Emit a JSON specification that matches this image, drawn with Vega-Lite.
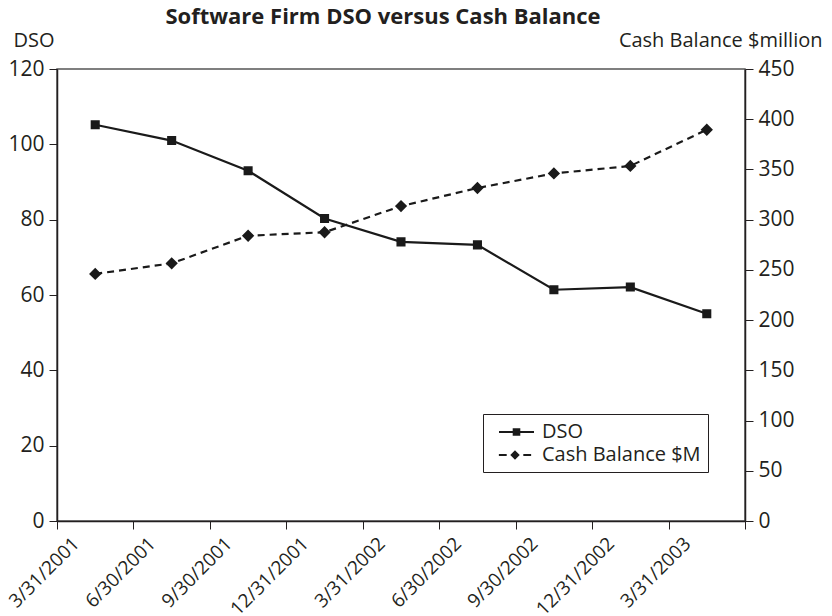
{
  "$schema": "https://vega.github.io/schema/vega-lite/v6.json",
  "width": 688,
  "height": 452,
  "autosize": {"type": "none"},
  "padding": {"left": 57, "top": 69, "right": 87, "bottom": 95},
  "background": "white",
  "config": {
    "font": "Open Sans",
    "view": {"stroke": "#555", "strokeWidth": 1.5},
    "axis": {"grid": false, "labelColor": "#231f20", "titleColor": "#231f20", "domainColor": "#231f20", "tickColor": "#231f20", "labelFont": "Open Sans", "titleFont": "Open Sans"},
    "legend": {
      "orient": "none",
      "direction": "vertical",
      "padding": 7,
      "symbolSize": 400,
      "symbolOffset": 15.5,
      "labelOffset": 14.5,
      "labelFontSize": 20,
      "labelFont": "Open Sans",
      "labelColor": "#231f20",
      "symbolStrokeWidth": 2,
      "symbolOpacity": 1
    }
  },
  "title": {
    "text": "Software Firm DSO versus Cash Balance",
    "font": "Open Sans",
    "fontSize": 22,
    "fontWeight": "bold",
    "color": "#231f20",
    "anchor": "middle",
    "frame": "group",
    "dx": -18,
    "offset": 1
  },
  "data": {
    "values": [
      {"quarter": "3/31/2001", "DSO": 105.2, "Cash": 246},
      {"quarter": "6/30/2001", "DSO": 101, "Cash": 256.5},
      {"quarter": "9/30/2001", "DSO": 93, "Cash": 284},
      {"quarter": "12/31/2001", "DSO": 80.3, "Cash": 287.5},
      {"quarter": "3/31/2002", "DSO": 74.1, "Cash": 313.5},
      {"quarter": "6/30/2002", "DSO": 73.3, "Cash": 331.5},
      {"quarter": "9/30/2002", "DSO": 61.4, "Cash": 346},
      {"quarter": "12/31/2002", "DSO": 62.1, "Cash": 353.5},
      {"quarter": "3/31/2003", "DSO": 55, "Cash": 389.5}
    ]
  },
  "encoding": {
    "x": {
      "field": "quarter",
      "type": "ordinal",
      "sort": null,
      "bandPosition": 0.5,
      "scale": {"type": "band", "paddingInner": 0, "paddingOuter": 0},
      "axis": {
        "title": null,
        "tickBand": "extent",
        "labelOffset": -26,
        "labelAngle": -45,
        "labelAlign": "right",
        "labelBaseline": "top",
        "labelFontSize": 19,
        "labelPadding": 5,
        "tickSize": 8,
        "domainWidth": 1.5
      }
    }
  },
  "layer": [
    {
      "encoding": {
        "y": {
          "field": "DSO",
          "type": "quantitative",
          "scale": {"domain": [0, 120], "nice": false, "zero": true},
          "axis": {
            "orient": "left",
            "values": [0, 20, 40, 60, 80, 100, 120],
            "labelFontSize": 21,
            "labelPadding": 5,
            "tickSize": 8,
            "domainWidth": 1.5,
            "title": "DSO",
            "titleAngle": 0,
            "titleFontSize": 20,
            "titleFontWeight": "normal",
            "titleAlign": "left",
            "titleBaseline": "alphabetic",
            "titleX": -44,
            "titleY": -23
          }
        }
      },
      "layer": [
        {"mark": {"type": "line", "color": "#1a1a1a", "strokeWidth": 2.2}},
        {
          "mark": {"type": "point", "shape": "square", "filled": true, "size": 50, "color": "#1a1a1a", "stroke": "#1a1a1a", "strokeWidth": 2},
          "encoding": {
            "opacity": {
              "datum": "DSO",
              "type": "ordinal",
              "scale": {"domain": ["DSO"], "range": [1, 1]},
              "legend": {
                "title": null,
                "legendX": 426,
                "legendY": 345,
                "symbolType": "M-1.75,0H1.75M-0.28,-0.28H0.28V0.28H-0.28Z",
                "encode": {
                  "symbols": {
                    "stroke": {"value": "#1a1a1a"},
                    "strokeWidth": {"value": 2},
                    "fill": {"value": "#1a1a1a"}
                  }
                }
              }
            }
          }
        }
      ]
    },
    {
      "encoding": {
        "y": {
          "field": "Cash",
          "type": "quantitative",
          "scale": {"domain": [0, 450], "nice": false, "zero": true},
          "axis": {
            "orient": "right",
            "values": [0, 50, 100, 150, 200, 250, 300, 350, 400, 450],
            "labelFontSize": 21,
            "labelPadding": 5,
            "tickSize": 8,
            "domainWidth": 1.5,
            "title": "Cash Balance $million",
            "titleAngle": 0,
            "titleFontSize": 20,
            "titleFontWeight": "normal",
            "titleAlign": "right",
            "titleBaseline": "alphabetic",
            "titleX": 77,
            "titleY": -23
          }
        }
      },
      "layer": [
        {"mark": {"type": "line", "color": "#1a1a1a", "strokeWidth": 2.2, "strokeDash": [7, 5]}},
        {
          "mark": {"type": "point", "shape": "diamond", "filled": true, "opacity": 1, "color": "#1a1a1a", "stroke": "#1a1a1a", "strokeWidth": 2},
          "encoding": {
            "size": {
              "datum": "Cash Balance $M",
              "type": "ordinal",
              "scale": {"domain": ["Cash Balance $M"], "range": [90, 90]},
              "legend": {
                "title": " ",
                "titleOrient": "top",
                "titleFontSize": 8,
                "titlePadding": 16,
                "legendX": 426,
                "legendY": 345,
                "strokeColor": "#231f20",
                "symbolOffset": 15,
                "labelOffset": 17,
                "symbolType": "M-3.4,0H-1.75M1.75,0H3.4M0,-0.7L0.7,0L0,0.7L-0.7,0Z",
                "encode": {
                  "symbols": {
                    "stroke": {"value": "#1a1a1a"},
                    "strokeWidth": {"value": 2},
                    "fill": {"value": "#1a1a1a"}
                  }
                }
              }
            }
          }
        }
      ]
    }
  ],
  "resolve": {"scale": {"y": "independent"}}
}
